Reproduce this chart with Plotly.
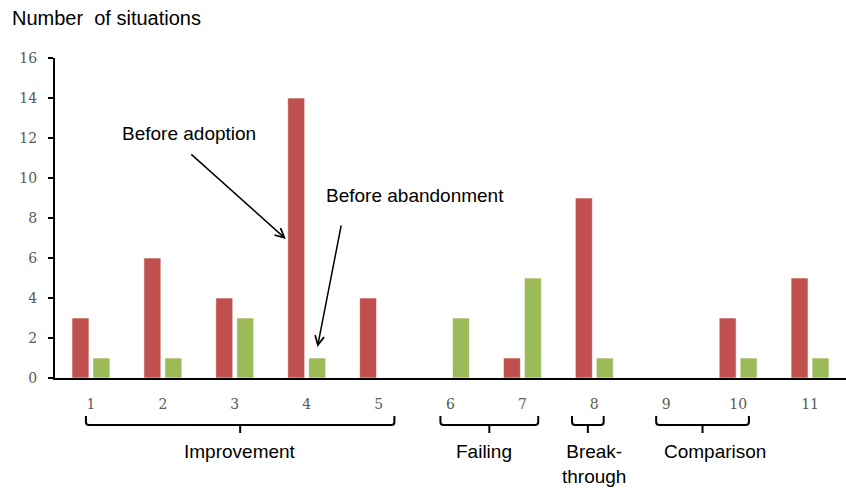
import plotly.graph_objects as go

categories = ["1", "2", "3", "4", "5", "6", "7", "8", "9", "10", "11"]
before_adoption = [3, 6, 4, 14, 4, 0, 1, 9, 0, 3, 5]
before_abandonment = [1, 1, 3, 1, 0, 3, 5, 1, 0, 1, 1]
y_ticks = [0, 2, 4, 6, 8, 10, 12, 14, 16]

# groups of situations shown as braces under the axis:
# (label, first idx, last idx, label shift in px)
groups = [
    ("Improvement", -0.07, 4.22, 0),
    ("Failing", 4.86, 6.22, -5),
    ("Break-<br>through", 6.69, 7.13, 6),
    ("Comparison", 7.86, 9.15, 12),
]

RED = "#C0504D"
GREEN = "#9BBB59"
SANS = "Liberation Sans, Arial, sans-serif"
SERIF = "DejaVu Serif, serif"

W, H = 846, 488
ML, MR, MT, MB = 55, 0, 58, 110
PW, PH = W - ML - MR, H - MT - MB

n = len(categories)


def xp(idx):
    """category index -> paper x"""
    return (idx + 0.5) / n


fig = go.Figure()
fig.add_trace(go.Bar(x=categories, y=before_adoption, name="Before adoption",
                     marker=dict(color=RED, line=dict(color="rgba(255,255,255,0.6)", width=1))))
fig.add_trace(go.Bar(x=categories, y=before_abandonment, name="Before abandonment",
                     marker=dict(color=GREEN, line=dict(color="rgba(255,255,255,0.6)", width=1))))

top, mid, bot = -0.119, -0.147, -0.172
rx, ry = 3 / PW, 3 / PH
shapes = []
annotations = []
label_y = {"Break-<br>through": -0.269}
for label, a, b, shift in groups:
    x0, x1 = xp(a), xp(b)
    xc = (x0 + x1) / 2
    path = (f"M{x0},{top} L{x0},{mid + ry} Q{x0},{mid} {x0 + rx},{mid} "
            f"L{x1 - rx},{mid} Q{x1},{mid} {x1},{mid + ry} L{x1},{top} "
            f"M{xc},{mid} L{xc},{bot}")
    shapes.append(dict(type="path", xref="paper", yref="paper", path=path,
                       line=dict(color="black", width=2)))
    annotations.append(dict(text=label, xref="paper", yref="paper",
                            x=xc + shift / PW, y=label_y.get(label, -0.231),
                            showarrow=False, xanchor="center", yanchor="middle",
                            font=dict(family=SANS, size=19, color="black")))

# call-out texts and their arrows
annotations += [
    dict(text="Before adoption", x=1.36, y=12.25, xref="x", yref="y",
         showarrow=False, font=dict(family=SANS, size=19, color="black")),
    dict(text="Before abandonment", x=4.5, y=9.15, xref="x", yref="y",
         showarrow=False, font=dict(family=SANS, size=19, color="black")),
    dict(text="", x=2.71, y=6.95, xref="x", yref="y", ax=-96, ay=-86,
         showarrow=True, arrowhead=5, arrowsize=1.2, arrowwidth=1.5, arrowcolor="black"),
    dict(text="", x=3.15, y=1.55, xref="x", yref="y", ax=24, ay=-123,
         showarrow=True, arrowhead=5, arrowsize=1.2, arrowwidth=1.5, arrowcolor="black"),
]

fig.update_layout(
    width=W, height=H,
    margin=dict(l=ML, r=MR, t=MT, b=MB),
    plot_bgcolor="white", paper_bgcolor="white",
    barmode="group", bargap=0.4167, bargroupgap=0.19,
    showlegend=False,
    title=dict(text="Number\u00a0 of situations", x=12 / W, y=1 - 18 / H,
               xref="container", yref="container", xanchor="left", yanchor="middle",
               font=dict(family=SANS, size=20, color="black")),
    shapes=shapes,
    annotations=annotations,
    xaxis=dict(type="category", range=[-0.5, n - 0.5], showgrid=False,
               showline=True, linecolor="black", linewidth=2, ticks="",
               ticklabelstandoff=12,
               tickfont=dict(family=SERIF, size=14, color="#595959")),
    yaxis=dict(range=[0, 16], tickvals=y_ticks, showgrid=False, zeroline=False,
               showline=True, linecolor="black", linewidth=2,
               ticks="outside", ticklen=5, tickwidth=2, tickcolor="black",
               ticklabelstandoff=8,
               tickfont=dict(family=SERIF, size=14, color="#595959")),
)

fig.write_html("out.html")
